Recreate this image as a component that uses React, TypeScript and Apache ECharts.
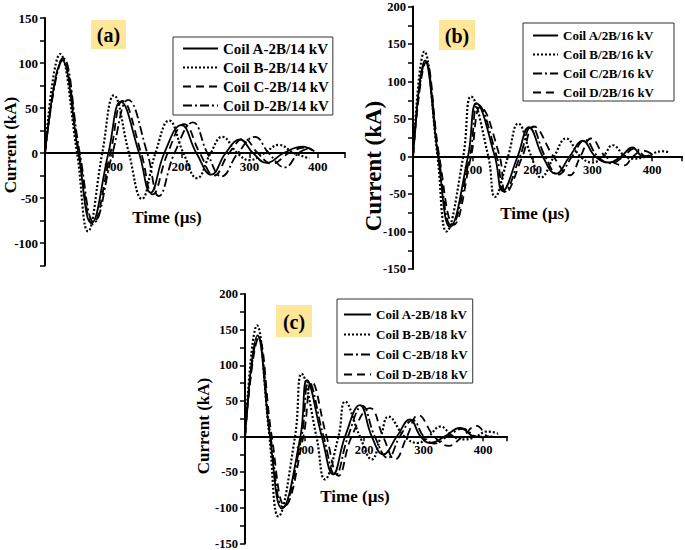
import React, { useEffect, useRef } from "react";
import * as echarts from "echarts";

const FONT = "'Liberation Serif', 'Times New Roman', serif";

// Panel (a) – 14 kV
const namesA = ["Coil A-2B/14 kV", "Coil B-2B/14 kV", "Coil C-2B/14 kV", "Coil D-2B/14 kV"];
const a14 = [[0,0],[25,103],[49,0],[68,-78],[93,0],[111,57],[138,0],[155,-44],[175,0],[200,31],[222,0],[244,-24],[265,0],[286,15],[305,0],[325,-11],[350,0],[378,7],[392,3]];
const b14 = [[0,0],[22,110],[47,0],[63,-87],[84,0],[101,64],[123,0],[142,-51],[162,0],[182,36],[203,0],[223,-28],[243,0],[260,18],[282,0],[300,-8],[322,0],[343,9],[365,0],[388,-6]];
const c14 = [[0,0],[26,105],[50,0],[70,-79],[96,0],[114,58],[141,0],[158,-46],[180,0],[204,32],[227,0],[248,-25],[270,0],[292,16],[312,0],[333,-12],[358,0],[382,6],[395,2]];
const d14 = [[0,0],[27,105],[51,0],[72,-77],[99,0],[122,59],[150,0],[167,-48],[190,0],[217,34],[238,0],[259,-26],[283,0],[308,18],[328,0],[352,-16],[372,0],[390,6]];

// Panel (b) – 16 kV
const namesB = ["Coil A/2B/16 kV", "Coil B/2B/16 kV", "Coil C/2B/16 kV", "Coil D/2B/16 kV"];
const a16 = [[0,0],[20,128],[42,0],[62,-94],[92,0],[106,71],[137,0],[150,-46],[175,0],[194,39],[217,0],[239,-23],[262,0],[284,21],[305,0],[328,-8],[348,0],[367,12],[385,0],[398,1]];
const b16 = [[0,0],[19,140],[41,0],[56,-100],[84,0],[97,80],[126,0],[137,-54],[159,0],[176,44],[198,0],[214,-28],[236,0],[256,24],[280,0],[300,-8],[318,0],[334,15],[355,0],[368,-3],[390,0],[417,7],[430,5]];
const c16 = [[0,0],[21,127],[43,0],[64,-92],[95,0],[109,69],[140,0],[153,-47],[179,0],[198,40],[221,0],[243,-24],[266,0],[288,22],[309,0],[332,-9],[352,0],[371,11],[390,0],[400,1]];
const d16 = [[0,0],[22,126],[44,0],[68,-91],[97,0],[113,66],[145,0],[155,-48],[183,0],[202,40],[235,0],[262,-25],[280,0],[298,24],[322,0],[353,-12],[368,0],[385,8],[400,3]];

// Panel (c) – 18 kV
const namesC = ["Coil A-2B/18 kV", "Coil B-2B/18 kV", "Coil C-2B/18 kV", "Coil D-2B/18 kV"];
const a18 = [[0,0],[21,142],[42,0],[62,-101],[93,0],[104,79],[129,0],[148,-53],[168,0],[193,44],[213,0],[232,-25],[255,0],[277,24],[295,0],[311,-9],[335,0],[361,12],[385,0],[400,-1]];
const b18 = [[0,0],[20,156],[41,0],[56,-112],[84,0],[95,88],[120,0],[134,-60],[157,0],[168,49],[193,0],[213,-32],[228,0],[241,28],[268,0],[290,-9],[308,0],[328,14],[350,0],[370,-4],[388,0],[406,7],[424,5]];
const c18 = [[0,0],[22,140],[43,0],[64,-99],[95,0],[107,77],[132,0],[152,-54],[173,0],[197,43],[218,0],[240,-30],[260,0],[282,23],[300,0],[318,-10],[340,0],[366,11],[390,0],[402,0]];
const d18 = [[0,0],[23,138],[45,0],[67,-97],[98,0],[112,77],[137,0],[157,-55],[179,0],[210,40],[232,0],[252,-32],[272,0],[291,30],[318,0],[342,-13],[365,0],[389,15],[410,0],[425,4]];

const SOLID = "solid";
const DOTTED = [2, 2];
const DASHED = [8, 5];
const DASHDOT = [9, 3, 2, 3];

export default function App() {
  const ref = useRef<HTMLDivElement>(null);
  useEffect(() => {
    document.body.style.margin = "0";
    const chart = echarts.init(ref.current!, null, { renderer: "svg" });

    const mkSeries = (name: string, data: number[][], idx: number, type: any, width = 1.8) => ({
      name,
      type: "line",
      xAxisIndex: idx,
      yAxisIndex: idx,
      data,
      smooth: 0.45,
      symbol: "none",
      showSymbol: false,
      lineStyle: { color: "#000", width, type, cap: "butt" },
      itemStyle: { color: "#000" },
      z: 3,
    });

    // grid heights and y ranges, to place the x axis on the zero line
    const grids = [
      { left: 45, top: 18, width: 300, height: 247.5, ymin: -125, ymax: 150 },
      { left: 413, top: 6, width: 270, height: 263, ymin: -150, ymax: 200 },
      { left: 245, top: 294, width: 262, height: 250, ymin: -150, ymax: 200 },
    ];
    const zeroOffset = (g: any) => -(g.height * (0 - g.ymin)) / (g.ymax - g.ymin);

    const xAxis = (idx: number, max: number, fs: number) => ({
      type: "value",
      gridIndex: idx,
      position: "bottom",
      offset: zeroOffset(grids[idx]),
      min: 0,
      max,
      interval: 100,
      splitLine: { show: false },
      axisLine: { onZero: false, lineStyle: { color: "#000", width: 2 } },
      axisTick: { show: true, length: 5, lineStyle: { color: "#000", width: 1.5 } },
      axisLabel: {
        color: "#000",
        fontFamily: FONT,
        fontWeight: "bold",
        fontSize: fs,
        margin: 7,
        formatter: (v: number) => (v > 0 && v % 100 === 0 ? String(v) : ""),
      },
    });

    const yAxis = (idx: number, fs: number) => ({
      type: "value",
      gridIndex: idx,
      min: grids[idx].ymin,
      max: grids[idx].ymax,
      interval: 25,
      splitLine: { show: false },
      axisLine: { onZero: false, lineStyle: { color: "#000", width: 2 } },
      axisTick: { show: true, length: 5, lineStyle: { color: "#000", width: 1.5 } },
      axisLabel: {
        color: "#000",
        fontFamily: FONT,
        fontWeight: "bold",
        fontSize: fs,
        margin: 7,
        formatter: (v: number) => (v % 50 === 0 ? String(v) : ""),
      },
    });

    const legend = (names: string[], left: number, top: number, fs: number, iw: number, gap: number, padding: number[]) => ({
      data: names,
      left,
      top,
      orient: "vertical",
      itemWidth: iw,
      itemHeight: 10,
      itemGap: gap,
      padding,
      borderColor: "#333",
      borderWidth: 1,
      backgroundColor: "#fff",
      selectedMode: false,
      itemStyle: { opacity: 0, borderWidth: 0 },
      textStyle: { color: "#000", fontFamily: FONT, fontWeight: "bold", fontSize: fs },
    });

    const boldText = (text: string, x: number, y: number, fs: number, rot = 0) => ({
      type: "text",
      x,
      y,
      rotation: rot,
      z: 10,
      style: {
        text,
        fill: "#000",
        font: `bold ${fs}px ${FONT}`,
        fontFamily: FONT,
        fontWeight: "bold",
        fontSize: fs,
        textAlign: "center",
        textVerticalAlign: "middle",
        align: "center",
        verticalAlign: "middle",
      },
    });

    const option: any = {
      animation: false,
      backgroundColor: "#fff",
      grid: grids.map((g) => ({ left: g.left, top: g.top, width: g.width, height: g.height })),
      xAxis: [xAxis(0, 440, 13), xAxis(1, 450, 12.5), xAxis(2, 440, 12.5)],
      yAxis: [yAxis(0, 13), yAxis(1, 12.5), yAxis(2, 12.5)],
      legend: [
        legend(namesA, 173, 37, 15, 35, 4, [4, 4, 2, 9]),
        legend(namesB, 523, 23, 13, 25, 6, [6, 20, 2, 9]),
        legend(namesC, 337, 299, 13, 27, 7, [9, 5, 2, 6]),
      ],
      series: [
        mkSeries(namesA[0], a14, 0, SOLID),
        mkSeries(namesA[1], b14, 0, DOTTED, 2.2),
        mkSeries(namesA[2], c14, 0, DASHED),
        mkSeries(namesA[3], d14, 0, DASHDOT),
        mkSeries(namesB[0], a16, 1, SOLID),
        mkSeries(namesB[1], b16, 1, DOTTED, 2.2),
        mkSeries(namesB[2], c16, 1, DASHDOT),
        mkSeries(namesB[3], d16, 1, DASHED),
        mkSeries(namesC[0], a18, 2, SOLID),
        mkSeries(namesC[1], b18, 2, DOTTED, 2.2),
        mkSeries(namesC[2], c18, 2, DASHDOT),
        mkSeries(namesC[3], d18, 2, DASHED),
      ],
      graphic: [
        { type: "rect", shape: { x: 91, y: 20, width: 35, height: 29 }, style: { fill: "#FFE699" }, z: 9 },
        boldText("(a)", 108.5, 35, 20),
        { type: "rect", shape: { x: 439, y: 20, width: 36, height: 30 }, style: { fill: "#FFE699" }, z: 9 },
        boldText("(b)", 457, 35.5, 20),
        { type: "rect", shape: { x: 276, y: 305, width: 36, height: 32 }, style: { fill: "#FFE699" }, z: 9 },
        boldText("(c)", 294, 321.5, 20),
        boldText("Current (kA)", 10, 145, 17, Math.PI / 2),
        boldText("Current (kA)", 373, 166, 23, Math.PI / 2),
        boldText("Current (kA)", 203, 426, 17, Math.PI / 2),
        boldText("Time (µs)", 167, 217, 17),
        boldText("Time (µs)", 535, 213, 17),
        boldText("Time (µs)", 355, 496, 17),
      ],
    };
    chart.setOption(option);
    return () => chart.dispose();
  }, []);
  return <div ref={ref} style={{ position: "fixed", left: 0, top: 0, width: 685, height: 550 }} />;
}
